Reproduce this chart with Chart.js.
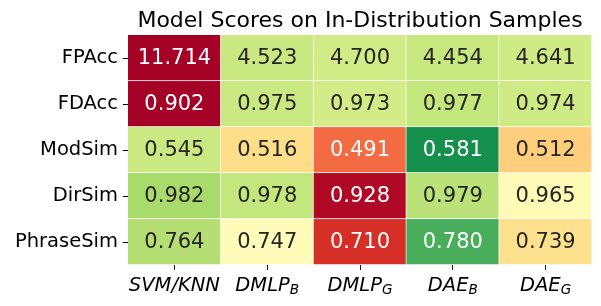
<!DOCTYPE html>
<html>
<head>
<meta charset="utf-8">
<script src="https://cdn.jsdelivr.net/npm/chart.js@4"></script>
<style>
  body { margin: 0; background: #fff; }
  canvas { display: block; }
</style>
</head>
<body>
<canvas id="chart" width="601" height="306"></canvas>
<script>
const TITLE = "Model Scores on In-Distribution Samples";
const rowLabels = ["FPAcc", "FDAcc", "ModSim", "DirSim", "PhraseSim"];
const modelNames = ["SVM/KNN", "DMLP_B", "DMLP_G", "DAE_B", "DAE_G"];

const fpAcc = [11.714, 4.523, 4.7, 4.454, 4.641];
const fdAcc = [0.902, 0.975, 0.973, 0.977, 0.974];
const modSim = [0.545, 0.516, 0.491, 0.581, 0.512];
const dirSim = [0.982, 0.978, 0.928, 0.979, 0.965];
const phraseSim = [0.764, 0.747, 0.71, 0.78, 0.739];
// FPAcc is better when lower, so its colours run the other way
const higherIsBetter = [false, true, true, true, true];

const rows = [fpAcc, fdAcc, modSim, dirSim, phraseSim];

// RdYlGn stops (matplotlib)
const RDYLGN = [
  [165, 0, 38], [215, 48, 39], [244, 109, 67], [253, 174, 97], [254, 224, 139],
  [255, 255, 191], [217, 239, 139], [166, 217, 106], [102, 189, 99], [26, 152, 80],
  [0, 104, 55],
];

function colormap(t) {
  t = Math.min(1, Math.max(0, t));
  const idx = Math.min(255, Math.floor(t * 256)) / 255;
  const pos = idx * (RDYLGN.length - 1);
  const i = Math.min(RDYLGN.length - 2, Math.floor(pos));
  const f = pos - i;
  return RDYLGN[i].map((c, k) => Math.round(c + (RDYLGN[i + 1][k] - c) * f));
}

function luminance(rgb) {
  const lin = rgb.map((c) => {
    c /= 255;
    return c <= 0.03928 ? c / 12.92 : Math.pow((c + 0.055) / 1.055, 2.4);
  });
  return 0.2126 * lin[0] + 0.7152 * lin[1] + 0.0722 * lin[2];
}

// z-score within each row, clipped to [-2, 2]
function rowColours(values, higher) {
  const mean = values.reduce((a, b) => a + b, 0) / values.length;
  const std = Math.sqrt(
    values.reduce((a, v) => a + (v - mean) ** 2, 0) / values.length,
  );
  return values.map((v) => {
    const z = ((v - mean) / std) * (higher ? 1 : -1);
    return colormap((z + 2) / 4);
  });
}

const cellRgb = rows.map((vals, r) => rowColours(vals, higherIsBetter[r]));

const datasets = rows.map((vals, r) => ({
  label: rowLabels[r],
  data: vals.map(() => [r - 0.5, r + 0.5]),
  values: vals,
  backgroundColor: cellRgb[r].map((c) => `rgb(${c.join(",")})`),
  borderColor: "#ffffff",
  borderWidth: { top: 0, left: 0, right: 1, bottom: 1 },
  borderSkipped: false,
  grouped: false,
  barPercentage: 1,
  categoryPercentage: 1,
}));

const FONT = "'DejaVu Sans', sans-serif";

const heatmapText = {
  id: "heatmapText",
  afterDatasetsDraw(chart) {
    const ctx = chart.ctx;
    ctx.save();
    ctx.font = `21px ${FONT}`;
    ctx.textAlign = "center";
    ctx.textBaseline = "alphabetic";
    chart.data.datasets.forEach((ds, r) => {
      chart.getDatasetMeta(r).data.forEach((bar, c) => {
        const lum = luminance(cellRgb[r][c]);
        ctx.fillStyle = lum > 0.408 ? "#262626" : "#ffffff";
        const cy = (bar.y + bar.base) / 2;
        ctx.fillText(ds.values[c].toFixed(3), bar.x, cy + 5.5);
      });
    });
    ctx.restore();
  },
  afterDraw(chart) {
    const ctx = chart.ctx;
    const area = chart.chartArea;
    ctx.save();
    ctx.fillStyle = "#000";
    ctx.textAlign = "center";
    ctx.textBaseline = "alphabetic";
    ctx.font = `22px ${FONT}`;
    ctx.fillText(TITLE, (area.left + area.right) / 2, 27);

    // model names with subscripts
    const xScale = chart.scales.x;
    const mainFont = `italic 19.5px ${FONT}`;
    const subFont = `italic 13.6px ${FONT}`;
    ctx.textAlign = "left";
    modelNames.forEach((name, i) => {
      const [main, sub] = name.split("_");
      ctx.font = mainFont;
      const wMain = ctx.measureText(main).width;
      ctx.font = subFont;
      const wSub = sub ? ctx.measureText(sub).width : 0;
      const x0 = xScale.getPixelForTick(i) - (wMain + wSub) / 2;
      ctx.font = mainFont;
      ctx.fillText(main, x0, 290.5);
      if (sub) {
        ctx.font = subFont;
        ctx.fillText(sub, x0 + wMain, 293.5);
      }
    });
    ctx.restore();
  },
};

new Chart(document.getElementById("chart"), {
  type: "bar",
  data: { labels: modelNames, datasets: datasets },
  options: {
    responsive: false,
    animation: false,
    layout: { padding: { top: 35, right: 9, left: 0, bottom: 0 } },
    plugins: {
      legend: { display: false },
      tooltip: { enabled: false },
      title: { display: false },
    },
    scales: {
      x: {
        type: "category",
        offset: true,
        grid: {
          display: true,
          offset: false,
          drawOnChartArea: false,
          drawTicks: true,
          tickLength: 5,
          tickColor: "#000",
          tickWidth: 1,
        },
        border: { display: false },
        ticks: { display: false },
        afterFit: (scale) => {
          scale.height = 41;
        },
      },
      y: {
        type: "linear",
        min: -0.5,
        max: 4.5,
        reverse: true,
        afterBuildTicks: (scale) => {
          scale.ticks = rowLabels.map((_, i) => ({ value: i }));
        },
        grid: {
          display: true,
          drawOnChartArea: false,
          drawTicks: true,
          tickLength: 5,
          tickColor: "#000",
          tickWidth: 1,
        },
        border: { display: false },
        ticks: {
          autoSkip: false,
          padding: 5,
          color: "#000",
          font: { family: FONT, size: 19.5 },
          callback: (value) => rowLabels[value],
        },
        afterFit: (scale) => {
          scale.width = 128;
        },
      },
    },
  },
  plugins: [heatmapText],
});
</script>
</body>
</html>
